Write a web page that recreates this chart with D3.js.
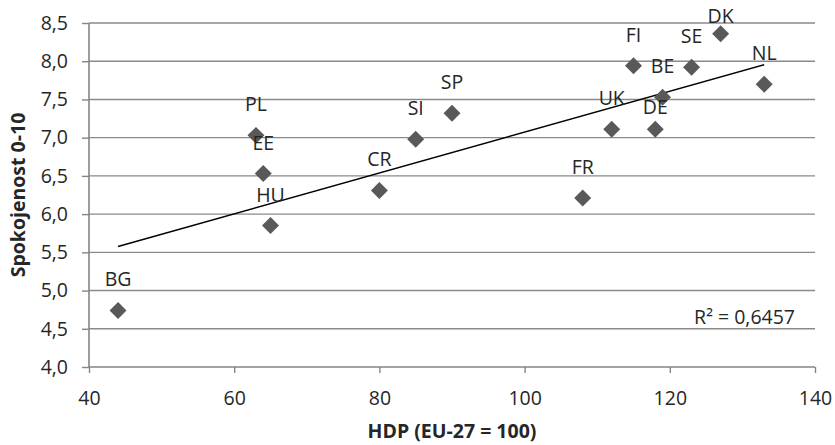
<!DOCTYPE html>
<html>
<head>
<meta charset="utf-8">
<script src="https://cdn.jsdelivr.net/npm/d3@7"></script>
<style>
  body { margin: 0; background: #fff; }
  text { font-family: "Open Sans", sans-serif; fill: #262626; }
</style>
</head>
<body>
<svg id="chart" width="835" height="445"></svg>
<script>
// country codes and values
const countries = ["PL", "EE", "HU", "CR", "SI", "SP", "FI", "SE", "DK", "BE", "NL", "UK", "DE", "FR", "BG"];
const hdp       = [63, 64, 65, 80, 85, 90, 115, 123, 127, 119, 133, 112, 118, 108, 44];
const spokojenost = [7.03, 6.53, 5.85, 6.31, 6.98, 7.32, 7.94, 7.92, 8.36, 7.53, 7.70, 7.11, 7.11, 6.21, 4.74];
const xTicks = [40, 60, 80, 100, 120, 140];
const yTicks = [4.0, 4.5, 5.0, 5.5, 6.0, 6.5, 7.0, 7.5, 8.0, 8.5];
const r2Label = "R² = 0,6457";

// labels that sit closer to their point
const labelLift = { DK: 18, DE: 22 };

const svg = d3.select("#chart");
const margin = { top: 23, right: 20, bottom: 78, left: 89 },
      width = 815 - margin.left,
      height = 367 - margin.top;

const g = svg.append("g").attr("transform", `translate(${margin.left},${margin.top})`);

const x = d3.scaleLinear().domain([40, 140]).range([0, width]);
const y = d3.scaleLinear().domain([4, 8.5]).range([height, 0]);

const fmt = d => d3.format(".1f")(d).replace(".", ",");

// gridlines
g.append("g")
  .selectAll("line")
  .data(yTicks.slice(1))
  .enter()
  .append("line")
  .attr("x1", 0).attr("x2", width)
  .attr("y1", d => y(d)).attr("y2", d => y(d))
  .attr("stroke", "#8a8a8a")
  .attr("stroke-width", 1.4);

// axes
const yAxis = g.append("g")
  .call(d3.axisLeft(y).tickValues(yTicks).tickFormat(fmt).tickSize(7).tickPadding(14));
const xAxis = g.append("g")
  .attr("transform", `translate(0,${height})`)
  .call(d3.axisBottom(x).tickValues(xTicks).tickSize(6));

[xAxis, yAxis].forEach(a => {
  a.select(".domain").attr("stroke", "#858585").attr("stroke-width", 1.6);
  a.selectAll(".tick line").attr("stroke", "#858585").attr("stroke-width", 1.4);
  a.selectAll(".tick text")
    .style("font-family", "Open Sans, sans-serif")
    .style("font-size", "19.5px")
    .attr("fill", "#262626");
});
xAxis.selectAll(".tick text").attr("y", 38).attr("dy", 0);
// x axis domain without outer end stubs
xAxis.select(".domain").attr("d", `M0,0H${width}`);
yAxis.select(".domain").attr("d", `M0,0V${height}`);

// linear trend line (least squares on the points)
const pts = countries.map((c, i) => ({ c, x: hdp[i], y: spokojenost[i] }));
const mx = d3.mean(pts, d => d.x), my = d3.mean(pts, d => d.y);
const slope = d3.sum(pts, d => (d.x - mx) * (d.y - my)) / d3.sum(pts, d => (d.x - mx) ** 2);
const icpt = my - slope * mx;
const [x0, x1] = d3.extent(hdp);

g.append("line")
  .attr("x1", x(x0)).attr("y1", y(icpt + slope * x0))
  .attr("x2", x(x1)).attr("y2", y(icpt + slope * x1))
  .attr("stroke", "#000")
  .attr("stroke-width", 1.5);

// diamonds
g.selectAll("path.pt")
  .data(pts)
  .enter()
  .append("path")
  .attr("class", "pt")
  .attr("d", d3.symbol(d3.symbolSquare, 144))
  .attr("transform", d => `translate(${x(d.x)},${y(d.y)}) rotate(45)`)
  .attr("fill", "#595959");

// point labels
g.selectAll("text.lbl")
  .data(pts)
  .enter()
  .append("text")
  .attr("class", "lbl")
  .attr("x", d => x(d.x))
  .attr("y", d => y(d.y) - (labelLift[d.c] || 31) + 7)
  .attr("text-anchor", "middle")
  .style("font-size", "19.5px")
  .text(d => d.c);

// R² label
g.append("text")
  .attr("x", 795 - margin.left)
  .attr("y", 324 - margin.top)
  .attr("text-anchor", "end")
  .style("font-size", "19.5px")
  .text(r2Label);

// axis titles
svg.append("text")
  .attr("x", margin.left + width / 2)
  .attr("y", 438)
  .attr("text-anchor", "middle")
  .attr("font-weight", "bold")
  .style("font-size", "19.5px")
  .text("HDP (EU-27 = 100)");

svg.append("text")
  .attr("transform", `translate(25,${margin.top + height / 2}) rotate(-90)`)
  .attr("text-anchor", "middle")
  .attr("font-weight", "bold")
  .style("font-size", "19.5px")
  .text("Spokojenost 0-10");
</script>
</body>
</html>
